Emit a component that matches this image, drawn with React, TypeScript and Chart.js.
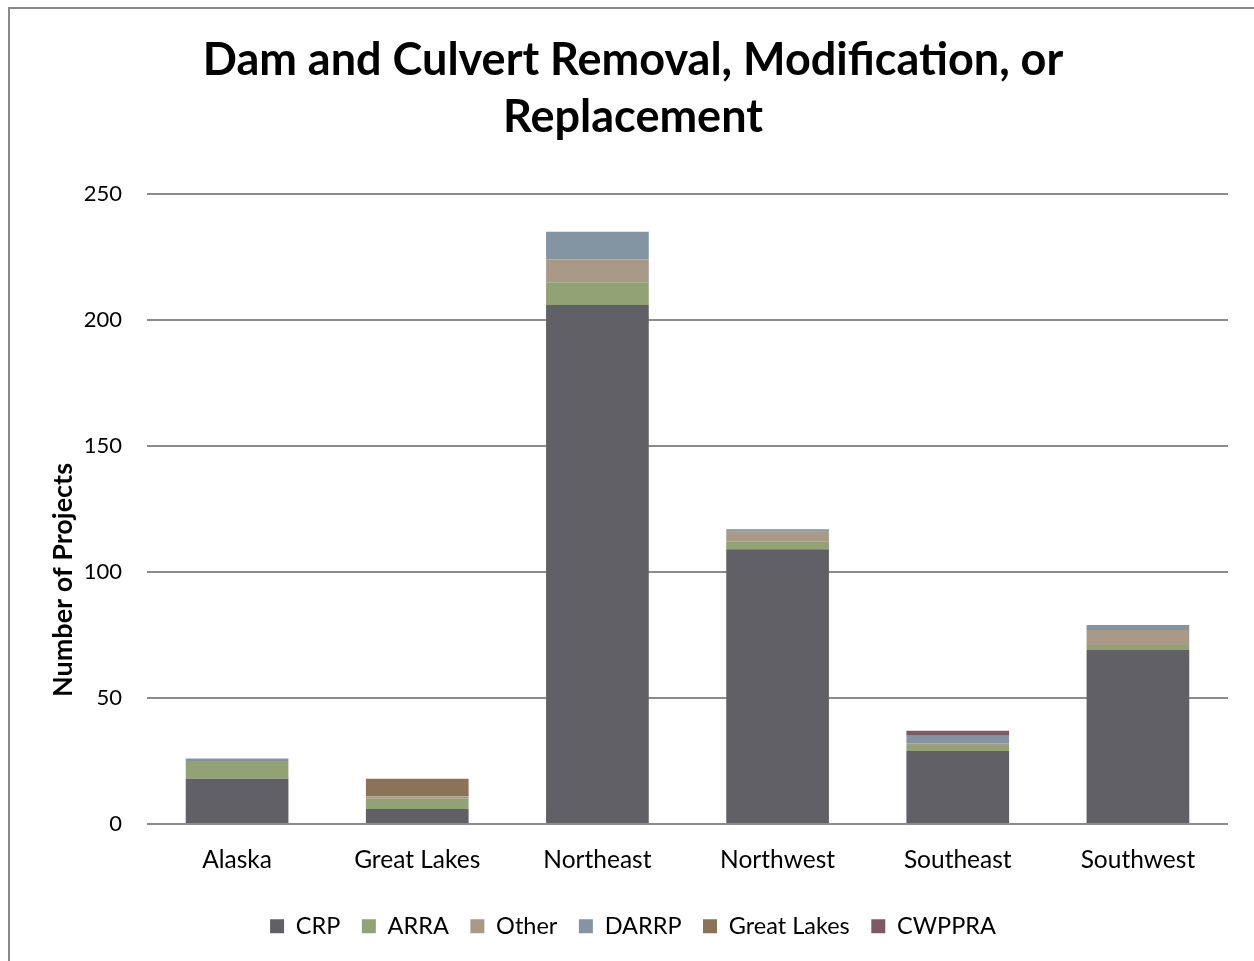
import React, { useEffect, useRef } from "react";
import { Chart, registerables } from "chart.js";

Chart.register(...registerables);

const categories = ["Alaska", "Great Lakes", "Northeast", "Northwest", "Southeast", "Southwest"];
const crp = [18, 6, 206, 109, 29, 69];
const arra = [7, 4, 9, 3, 2, 2];
const other = [0, 1, 9, 4, 1, 6];
const darrp = [1, 0, 11, 1, 3, 2];
const greatLakes = [0, 7, 0, 0, 0, 0];
const cwppra = [0, 0, 0, 0, 2, 0];
const yTicks = [0, 50, 100, 150, 200, 250];
const titleLines = ["Dam and Culvert Removal, Modification, or", "Replacement"];
const yTitle = "Number of Projects";

const FONT = "Lato, 'Open Sans', sans-serif";

export default function App() {
  const ref = useRef<HTMLCanvasElement | null>(null);

  useEffect(() => {
    if (!ref.current) return;
    const yTitlePlugin = {
      id: "yTitlePlugin",
      afterDraw(chart: any) {
        const ctx = chart.ctx;
        ctx.save();
        ctx.translate(63, 580);
        ctx.rotate(-Math.PI / 2);
        ctx.font = `bold 27px ${FONT}`;
        ctx.fillStyle = "#000";
        ctx.textAlign = "center";
        ctx.textBaseline = "middle";
        ctx.fillText(yTitle, 0, 0);
        ctx.restore();
      },
    };
    const mk = (label: string, data: number[], color: string) => ({
      label,
      data,
      backgroundColor: color,
      borderWidth: 0,
      categoryPercentage: 1,
      barPercentage: 0.57,
    });
    const chart = new Chart(ref.current, {
      type: "bar",
      data: {
        labels: categories,
        datasets: [
          mk("CRP", crp, "#616066"),
          mk("ARRA", arra, "#93A275"),
          mk("Other", other, "#A89A86"),
          mk("DARRP", darrp, "#8395A3"),
          mk("Great Lakes", greatLakes, "#8B7358"),
          mk("CWPPRA", cwppra, "#7D5A66"),
        ],
      },
      options: {
        animation: false,
        responsive: false,
        layout: { padding: { left: 38, right: 26, top: 0, bottom: 13 } },
        plugins: {
          title: {
            display: true,
            text: titleLines,
            color: "#000",
            font: { family: FONT, size: 45, weight: "bold", lineHeight: 57 / 45 },
            padding: { top: 32, bottom: 48 },
          },
          legend: {
            position: "bottom",
            labels: {
              color: "#000",
              font: { family: FONT, size: 23.5 },
              boxWidth: 14,
              boxHeight: 14,
              padding: 21.5,
            },
          },
          tooltip: { enabled: false },
        },
        scales: {
          x: {
            stacked: true,
            grid: { display: false, drawTicks: false },
            border: { display: false },
            ticks: { color: "#000", font: { family: FONT, size: 24.5 }, padding: 21 },
            afterFit(scale: any) {
              scale.height = 69;
            },
          },
          y: {
            stacked: true,
            min: 0,
            max: 250,
            afterBuildTicks(scale: any) {
              scale.ticks = yTicks.map((v) => ({ value: v }));
            },
            grid: { color: "#8c8c8c", lineWidth: 2, drawTicks: false },
            border: { display: false },
            ticks: { color: "#000", font: { family: FONT, size: 22 }, padding: 25 },
            afterFit(scale: any) {
              scale.width = 109;
            },
          },
        },
      },
      plugins: [yTitlePlugin],
    });
    return () => chart.destroy();
  }, []);

  return (
    <div style={{ position: "absolute", left: 0, top: 0, width: 1254, height: 961, background: "#fff", overflow: "hidden" }}>
      <div
        style={{
          position: "absolute",
          left: 8,
          top: 7,
          width: 1260,
          height: 970,
          borderTop: "2px solid #898989",
          borderLeft: "2px solid #898989",
        }}
      />
      <canvas ref={ref} width={1254} height={961} style={{ position: "absolute", left: 0, top: 0 }} />
    </div>
  );
}
